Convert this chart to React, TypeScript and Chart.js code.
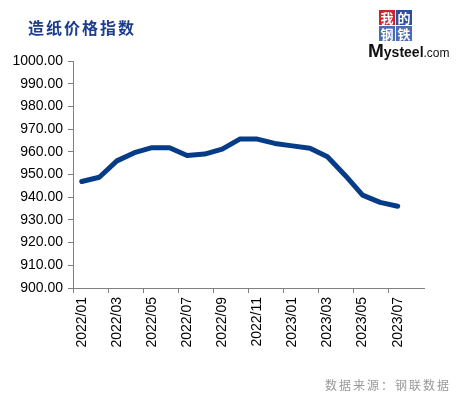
import React, { useEffect, useRef } from "react";
import { Chart, registerables } from "chart.js";

Chart.register(...registerables);

const categories = [
  "2022/01", "2022/02", "2022/03", "2022/04", "2022/05", "2022/06", "2022/07", "2022/08",
  "2022/09", "2022/10", "2022/11", "2022/12", "2023/01", "2023/02", "2023/03", "2023/04",
  "2023/05", "2023/06", "2023/07", "2023/08",
];

const indexValues = [
  946.9, 948.8, 956.0, 959.6, 961.8, 961.8, 958.4, 959.0, 961.2, 965.6,
  965.6, 963.7, 962.6, 961.6, 957.8, 949.7, 940.9, 937.7, 936.0,
];

const yMin = 900;
const yMax = 1000;
const yStep = 10;

const titleText = "造纸价格指数";
const sourceText = "数据来源：钢联数据";

export default function App() {
  const canvasRef = useRef<HTMLCanvasElement | null>(null);

  useEffect(() => {
    if (!canvasRef.current) return;
    const chart = new Chart(canvasRef.current, {
      type: "line",
      data: {
        labels: categories,
        datasets: [
          {
            data: indexValues,
            borderColor: "#053c87",
            borderWidth: 5,
            borderCapStyle: "round",
            borderJoinStyle: "round",
            pointRadius: 0,
            tension: 0,
            fill: false,
          },
        ],
      },
      options: {
        animation: false,
        responsive: true,
        maintainAspectRatio: false,
        layout: { padding: { left: 0, top: 61, right: 39, bottom: 0 } },
        plugins: { legend: { display: false }, tooltip: { enabled: false } },
        scales: {
          x: {
            type: "category",
            offset: true,
            afterFit: (s: any) => {
              s.height = 109;
            },
            grid: {
              offset: true,
              drawOnChartArea: false,
              drawTicks: true,
              tickLength: 5,
              tickColor: (ctx: any) => (ctx.index % 2 === 0 ? "#808080" : "rgba(0,0,0,0)"),
            },
            border: { display: true, color: "#808080", width: 1 },
            ticks: {
              autoSkip: false,
              minRotation: 90,
              maxRotation: 90,
              padding: 4,
              color: "#000000",
              font: { family: "'Liberation Sans', Arial, sans-serif", size: 14 },
              callback: function (this: any, _v: any, i: number) {
                return i % 2 === 0 ? categories[i] : "";
              },
            },
          },
          y: {
            min: yMin,
            max: yMax,
            afterFit: (s: any) => {
              s.width = 73;
            },
            grid: {
              drawOnChartArea: false,
              drawTicks: true,
              tickLength: 5,
              tickColor: "#808080",
            },
            border: { display: true, color: "#808080", width: 1 },
            ticks: {
              stepSize: yStep,
              padding: 5,
              color: "#000000",
              font: { family: "'Liberation Sans', Arial, sans-serif", size: 14 },
              callback: (v: any) => Number(v).toFixed(2),
            },
          },
        },
      },
    });
    return () => chart.destroy();
  }, []);

  const box = (bg: string, ch: string) => (
    <div
      style={{
        width: 16,
        height: 15,
        background: bg,
        color: "#ffffff",
        fontSize: 13,
        lineHeight: "15px",
        textAlign: "center",
        fontFamily: "'Noto Sans CJK SC', sans-serif",
        fontWeight: 700,
      }}
    >
      {ch}
    </div>
  );

  return (
    <div
      style={{
        position: "absolute",
        left: 0,
        top: 0,
        width: 463,
        height: 397,
        background: "#ffffff",
        overflow: "hidden",
        fontFamily: "'Liberation Sans', Arial, sans-serif",
      }}
    >
      <canvas ref={canvasRef} style={{ position: "absolute", left: 0, top: 0, width: 463, height: 397 }} />
      <div
        style={{
          position: "absolute",
          left: 28,
          top: 16,
          fontFamily: "'Noto Sans CJK SC', sans-serif",
          fontWeight: 700,
          fontSize: 16,
          letterSpacing: 2,
          color: "#1c3c8c",
          lineHeight: "22px",
          whiteSpace: "nowrap",
        }}
      >
        {titleText}
      </div>
      <div style={{ position: "absolute", left: 379, top: 10, display: "grid", gridTemplateColumns: "16px 16px", gap: 1 }}>
        {box("#d1222b", "我")}
        {box("#2c4f9e", "的")}
        {box("#4a6cb0", "钢")}
        {box("#4a6cb0", "铁")}
      </div>
      <div
        style={{
          position: "absolute",
          left: 368,
          top: 40,
          whiteSpace: "nowrap",
          color: "#111111",
          lineHeight: "22px",
        }}
      >
        <span style={{ fontSize: 19, fontWeight: 700 }}>M</span>
        <span style={{ fontSize: 14, fontWeight: 700 }}>ysteel</span>
        <span style={{ fontSize: 12 }}>.com</span>
      </div>
      <div
        style={{
          position: "absolute",
          left: 325,
          top: 377,
          fontFamily: "'Noto Sans CJK SC', sans-serif",
          fontSize: 12,
          letterSpacing: 2,
          color: "#999999",
          lineHeight: "16px",
          whiteSpace: "nowrap",
        }}
      >
        {sourceText}
      </div>
    </div>
  );
}
